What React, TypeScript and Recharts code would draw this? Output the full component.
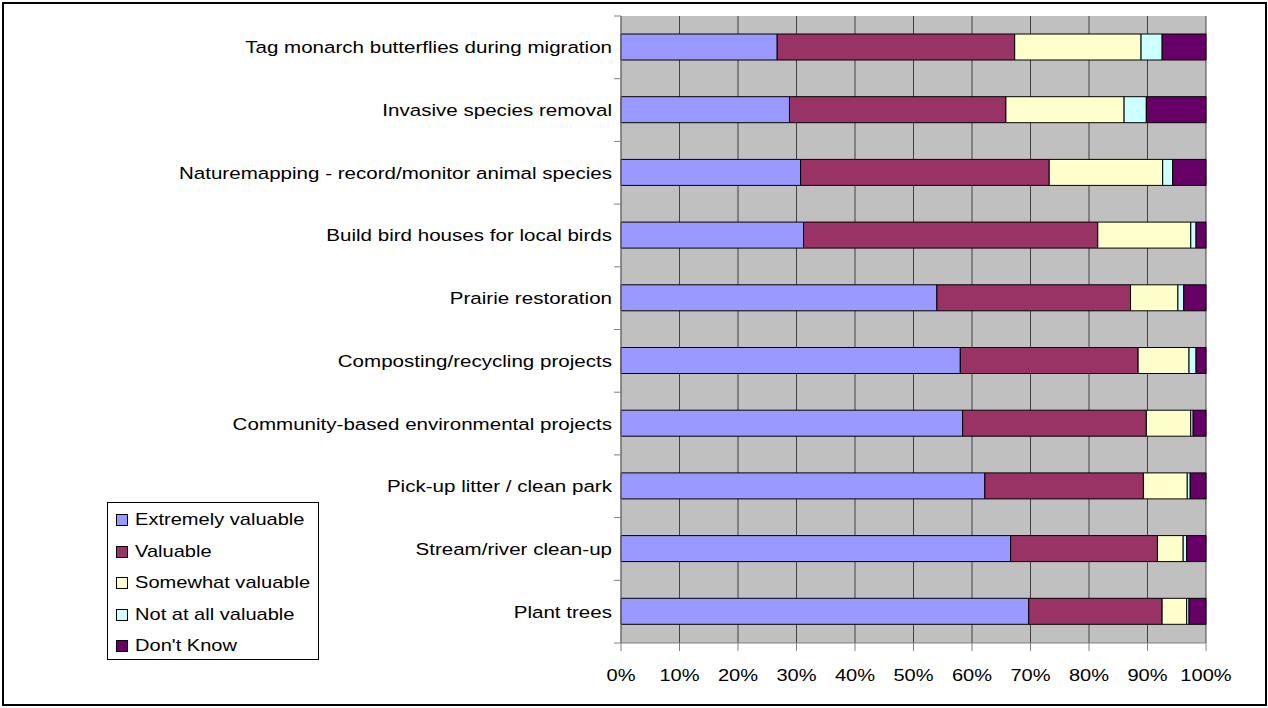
import React from 'react';
import { BarChart, Bar, XAxis, YAxis, CartesianGrid } from 'recharts';

const categories = [
  'Tag monarch butterflies during migration',
  'Invasive species removal',
  'Naturemapping - record/monitor animal species',
  'Build bird houses for local birds',
  'Prairie restoration',
  'Composting/recycling projects',
  'Community-based environmental projects',
  'Pick-up litter / clean park',
  'Stream/river clean-up',
  'Plant trees',
];

const seriesNames = ['Extremely valuable', 'Valuable', 'Somewhat valuable', 'Not at all valuable', "Don't Know"];
const seriesColors = ['#9999FF', '#993366', '#FFFFCC', '#CCFFFF', '#660066'];

// percentages per category, same order as categories
const extremelyValuable = [26.7, 28.8, 30.7, 31.2, 54.0, 58.0, 58.4, 62.2, 66.6, 69.7];
const valuable = [40.6, 37.0, 42.5, 50.3, 33.1, 30.4, 31.4, 27.1, 25.1, 22.8];
const somewhatValuable = [21.6, 20.2, 19.4, 15.9, 8.1, 8.7, 7.6, 7.5, 4.4, 4.2];
const notAtAllValuable = [3.6, 3.8, 1.7, 0.9, 1.0, 1.2, 0.4, 0.5, 0.6, 0.4];
const dontKnow = [7.5, 10.2, 5.7, 1.7, 3.8, 1.7, 2.2, 2.7, 3.3, 2.9];

const xTicks = [0, 0.1, 0.2, 0.3, 0.4, 0.5, 0.6, 0.7, 0.8, 0.9, 1];

const seriesValues = [extremelyValuable, valuable, somewhatValuable, notAtAllValuable, dontKnow];
const keys = ['ev', 'v', 'sv', 'na', 'dk'];

const chartData = categories.map((name, i) => {
  const row: Record<string, any> = { name };
  keys.forEach((k, s) => {
    row[k] = seriesValues[s][i];
  });
  return row;
});

const FONT = '"Liberation Sans", Arial, sans-serif';
const STRETCH = 1.18; // text in the original is a bit wide for its height
const PLOT_HEIGHT = 627;
const HALF_BAND = PLOT_HEIGHT / categories.length / 2;

const CategoryTick = (props: any) => {
  const { x, y, payload, index } = props;
  return (
    <g>
      <text
        transform={`translate(${x},${y}) scale(1.21,1)`}
        dy="0.355em"
        textAnchor="end"
        fontSize={17}
        fontFamily={FONT}
        fill="#000"
      >
        {payload.value}
      </text>
      <line x1={x + 2} x2={x + 9} y1={y - HALF_BAND} y2={y - HALF_BAND} stroke="#808080" />
      {index === categories.length - 1 && (
        <line x1={x + 2} x2={x + 9} y1={y + HALF_BAND} y2={y + HALF_BAND} stroke="#808080" />
      )}
    </g>
  );
};

const PercentTick = (props: any) => {
  const { x, y, payload } = props;
  return (
    <text
      transform={`translate(${x},${y}) scale(${STRETCH},1)`}
      dy="0.71em"
      textAnchor="middle"
      fontSize={17}
      fontFamily={FONT}
      fill="#000"
    >
      {`${Math.round(payload.value * 100)}%`}
    </text>
  );
};

const App = () => {
  return (
    <div style={{ position: 'absolute', left: 0, top: 0, width: 1268, height: 708, background: '#fff' }}>
      <div
        style={{
          position: 'absolute',
          left: 2,
          top: 2,
          width: 1261,
          height: 700,
          border: '2px solid #000',
        }}
      />
      <BarChart
        width={1268}
        height={708}
        data={chartData}
        layout="vertical"
        stackOffset="expand"
        barSize={26}
        margin={{ top: 16, right: 62, bottom: 25, left: 0 }}
      >
        <CartesianGrid horizontal={false} fill="#C0C0C0" stroke="#333" strokeOpacity={0.9} />
        <XAxis
          type="number"
          domain={[0, 1]}
          ticks={xTicks}
          height={40}
          tickSize={8}
          tickMargin={18}
          stroke="#808080"
          tick={<PercentTick />}
          interval={0}
        />
        <YAxis
          type="category"
          dataKey="name"
          width={621}
          tickSize={7}
          tickMargin={2}
          tickLine={false}
          stroke="#808080"
          tick={<CategoryTick />}
          interval={0}
        />
        {keys.map((k, s) => (
          <Bar
            key={k}
            dataKey={k}
            name={seriesNames[s]}
            stackId="a"
            fill={seriesColors[s]}
            stroke="#000"
            strokeWidth={1}
            isAnimationActive={false}
          />
        ))}
      </BarChart>
      <div
        style={{
          position: 'absolute',
          left: 107,
          top: 502,
          width: 210,
          height: 156,
          border: '1px solid #000',
          background: '#fff',
          fontFamily: FONT,
          fontSize: 17,
          boxSizing: 'content-box',
        }}
      >
        {seriesNames.map((n, i) => (
          <div key={n} style={{ position: 'absolute', left: 8, top: 6 + i * 31.6, height: 22, display: 'flex', alignItems: 'center' }}>
            <span
              style={{
                display: 'inline-block',
                width: 10,
                height: 10,
                background: seriesColors[i],
                border: '1px solid #000',
                marginRight: 7,
              }}
            />
            <span
              style={{
                whiteSpace: 'nowrap',
                display: 'inline-block',
                transform: `scaleX(${STRETCH})`,
                transformOrigin: 'left center',
              }}
            >
              {n}
            </span>
          </div>
        ))}
      </div>
    </div>
  );
};

export default App;
